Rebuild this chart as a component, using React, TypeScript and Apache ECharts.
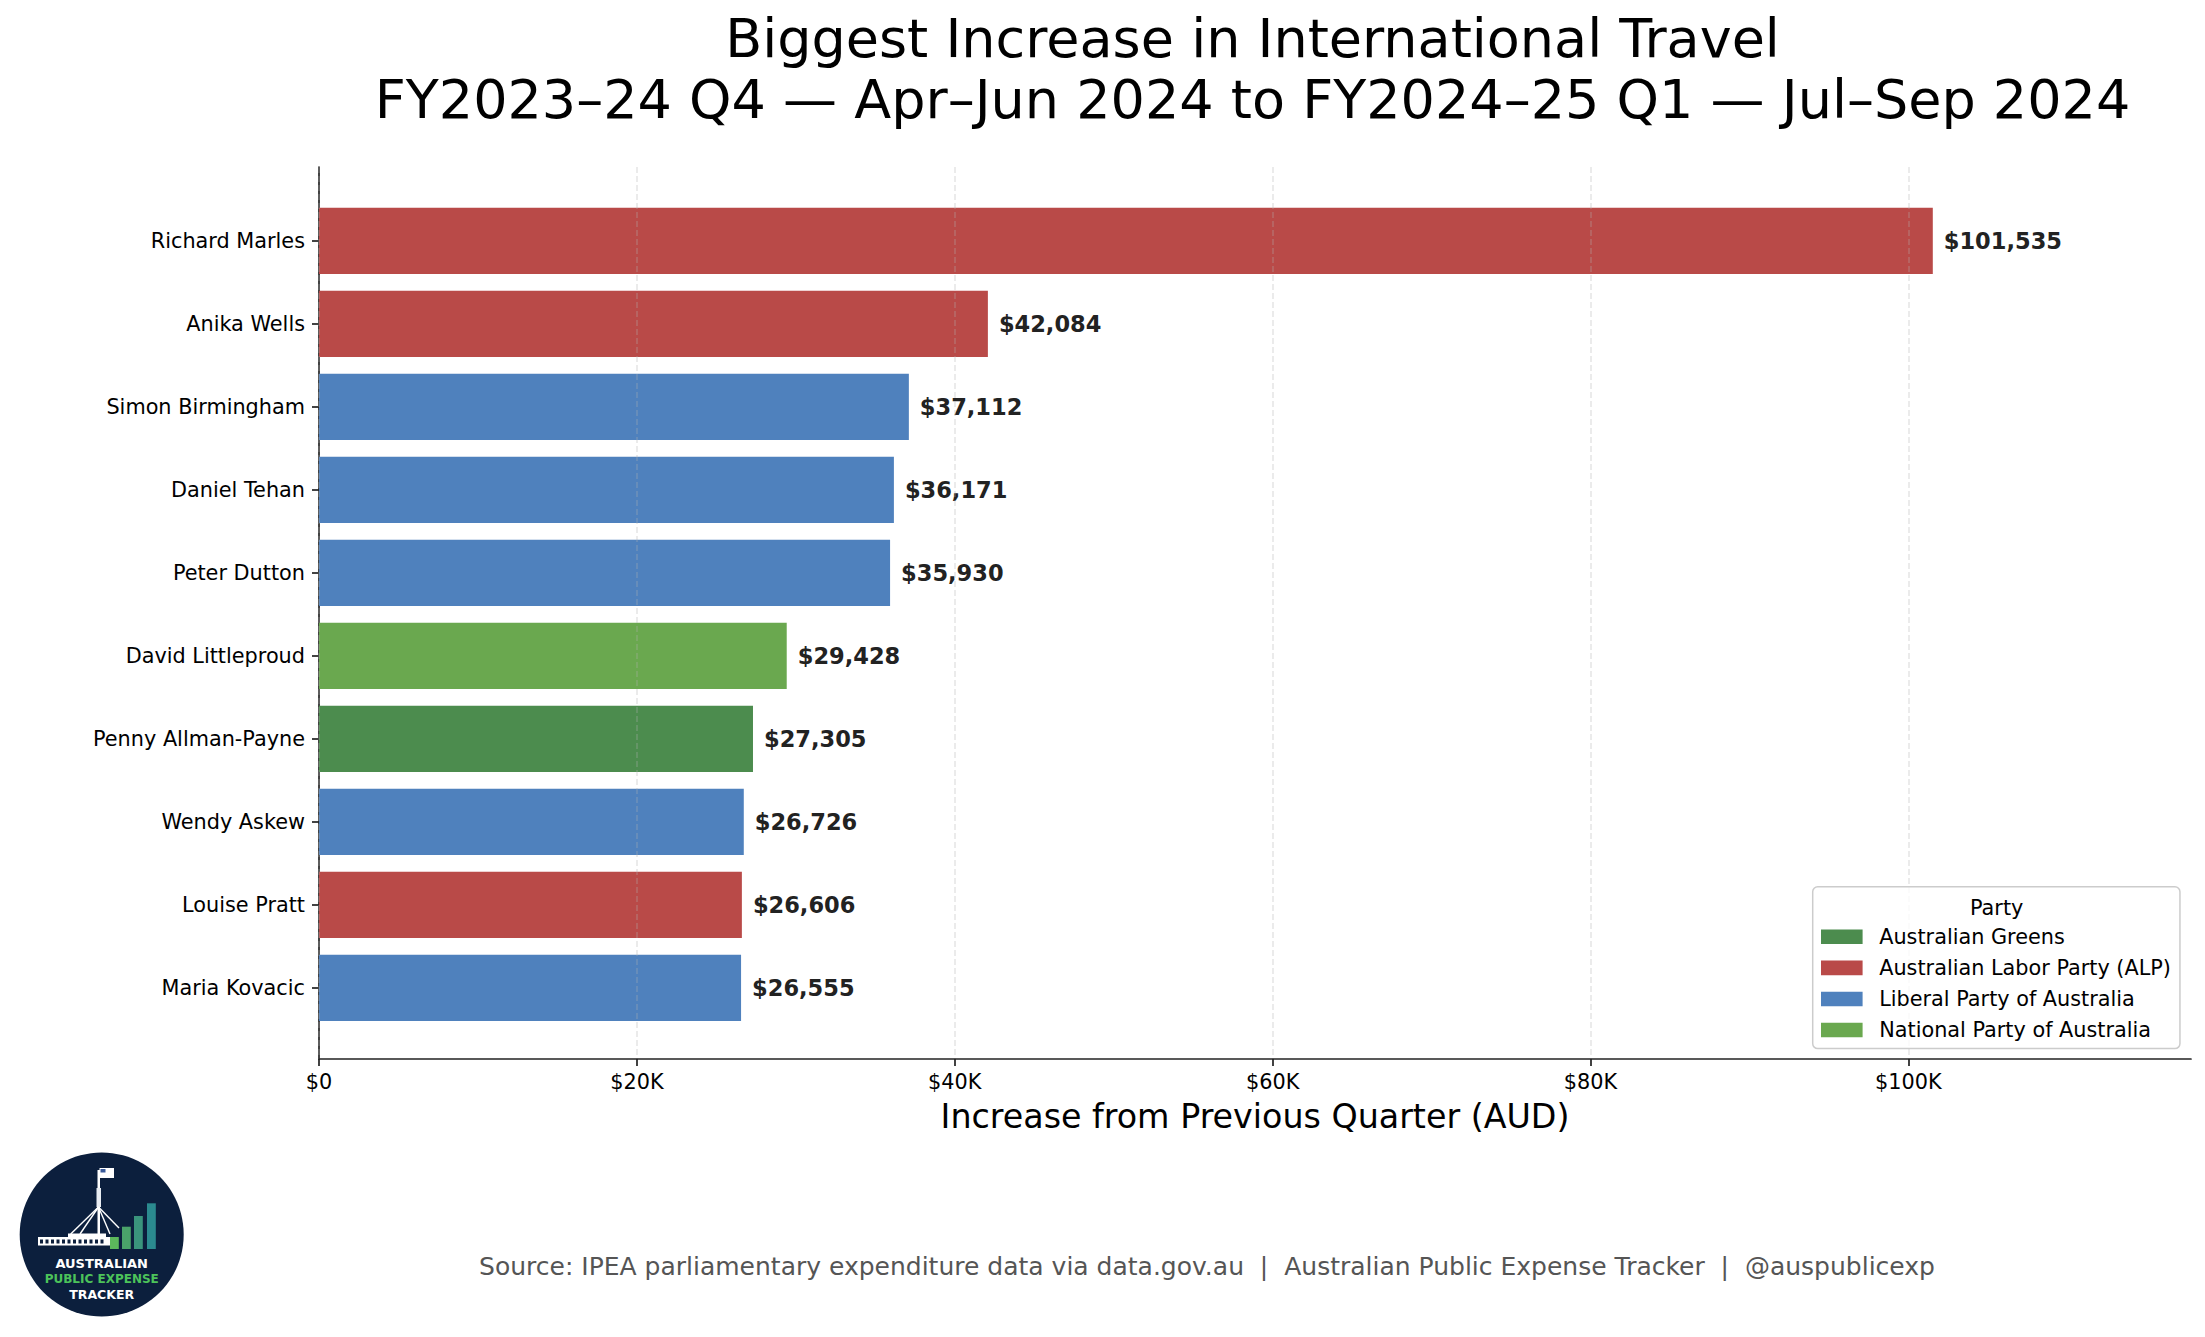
import React, { useEffect, useRef } from "react";
import * as echarts from "echarts";

const names = [
  "Richard Marles",
  "Anika Wells",
  "Simon Birmingham",
  "Daniel Tehan",
  "Peter Dutton",
  "David Littleproud",
  "Penny Allman-Payne",
  "Wendy Askew",
  "Louise Pratt",
  "Maria Kovacic",
];
const values = [101535, 42084, 37112, 36171, 35930, 29428, 27305, 26726, 26606, 26555];
const parties = [
  "Australian Labor Party (ALP)",
  "Australian Labor Party (ALP)",
  "Liberal Party of Australia",
  "Liberal Party of Australia",
  "Liberal Party of Australia",
  "National Party of Australia",
  "Australian Greens",
  "Liberal Party of Australia",
  "Australian Labor Party (ALP)",
  "Liberal Party of Australia",
];
const partyOrder = [
  "Australian Greens",
  "Australian Labor Party (ALP)",
  "Liberal Party of Australia",
  "National Party of Australia",
];
const partyColors = ["#4c8c4e", "#b94a48", "#4f81bd", "#6aa84f"];
const xTicks = [0, 20000, 40000, 60000, 80000, 100000];
const xMax = 117780;
const titleLines = [
  "Biggest Increase in International Travel",
  "FY2023–24 Q4 — Apr–Jun 2024 to FY2024–25 Q1 — Jul–Sep 2024",
];
const xAxisName = "Increase from Previous Quarter (AUD)";
const legendTitle = "Party";
const sourceText =
  "Source: IPEA parliamentary expenditure data via data.gov.au  |  Australian Public Expense Tracker  |  @auspublicexp";

const FONT = "DejaVu Sans";

function money(v: number) {
  return "$" + Number(v).toLocaleString("en-US");
}
function tickFmt(v: number) {
  return v === 0 ? "$0" : "$" + v / 1000 + "K";
}

function logoGraphic() {
  const navy = "#0c1f3d";
  const els: any[] = [];
  els.push({ type: "circle", shape: { cx: 101.7, cy: 1234.5, r: 82 }, style: { fill: navy }, z: 1 });
  // building base
  els.push({ type: "rect", shape: { x: 38, y: 1237, width: 72, height: 8.5 }, style: { fill: "#ffffff" }, z: 2 });
  els.push({ type: "rect", shape: { x: 68, y: 1233.5, width: 38, height: 5 }, style: { fill: "#ffffff" }, z: 2 });
  for (let i = 0; i < 12; i++) {
    els.push({
      type: "rect",
      shape: { x: 40 + i * 5.5, y: 1239.5, width: 3, height: 4 },
      style: { fill: navy },
      z: 3,
    });
  }
  // flag pole and flag
  els.push({ type: "rect", shape: { x: 97.5, y: 1170, width: 2.5, height: 66 }, style: { fill: "#ffffff" }, z: 2 });
  els.push({ type: "rect", shape: { x: 96.5, y: 1188, width: 4.5, height: 19 }, style: { fill: "#e8ecf2" }, z: 2 });
  els.push({ type: "rect", shape: { x: 99.5, y: 1168, width: 14.5, height: 10 }, style: { fill: "#ffffff" }, z: 2 });
  els.push({ type: "rect", shape: { x: 100.5, y: 1169, width: 5, height: 3.5 }, style: { fill: "#3a5a9a" }, z: 3 });
  const legs = [
    [70.7, 1234],
    [80, 1234],
    [110, 1234],
    [119, 1228],
  ];
  legs.forEach(([x2, y2]) => {
    els.push({
      type: "line",
      shape: { x1: 98.5, y1: 1207, x2, y2 },
      style: { stroke: "#ffffff", lineWidth: 1.4 },
      z: 2,
    });
  });
  // bars
  const bars = [
    { x: 110, top: 1237, c: "#5cb85c" },
    { x: 122, top: 1226.7, c: "#4aa36a" },
    { x: 134, top: 1216, c: "#3a947c" },
    { x: 147, top: 1203.3, c: "#2b8a8f" },
  ];
  bars.forEach((b) => {
    els.push({
      type: "rect",
      shape: { x: b.x, y: b.top, width: 8.8, height: 1249 - b.top },
      style: { fill: b.c },
      z: 2,
    });
  });
  const txt = (t: string, y: number, fill: string, size: number) => ({
    type: "text",
    x: 101.7,
    y,
    style: {
      text: t,
      fill,
      font: `bold ${size}px "${FONT}"`,
      textAlign: "center",
      textVerticalAlign: "middle",
    },
    z: 3,
  });
  els.push(txt("AUSTRALIAN", 1263.5, "#ffffff", 13));
  els.push(txt("PUBLIC EXPENSE", 1278.5, "#4cc35a", 12));
  els.push(txt("TRACKER", 1294.5, "#ffffff", 12.5));
  return els;
}

export default function App() {
  const ref = useRef<HTMLDivElement>(null);
  useEffect(() => {
    const chart = echarts.init(ref.current!, null, { renderer: "svg" });
    const labelStyle = {
      show: true,
      position: "right",
      distance: 11,
      formatter: (p: any) => money(p.value),
      fontSize: 22.5,
      fontWeight: "bold",
      color: "#222222",
      fontFamily: FONT,
    };
    const option: any = {
      animation: false,
      backgroundColor: "#ffffff",
      textStyle: { fontFamily: FONT },
      grid: [
        { left: 319, right: 14, top: 199.4, height: 830, containLabel: false },
        { left: 319, right: 14, top: 167, height: 892, containLabel: false },
      ],
      xAxis: [
        { type: "value", gridIndex: 0, min: 0, max: xMax, show: false },
        {
          type: "value",
          gridIndex: 1,
          min: 0,
          max: xMax,
          interval: 20000,
          z: 3,
          name: xAxisName,
          nameLocation: "middle",
          nameGap: 41,
          nameTextStyle: { fontSize: 33.3, color: "#000000", fontFamily: FONT },
          axisLine: { show: true, onZero: false, lineStyle: { color: "#222222", width: 1.7 } },
          axisTick: {
            show: true,
            length: 7,
            customValues: xTicks,
            lineStyle: { color: "#222222", width: 1.7 },
          },
          axisLabel: {
            show: true,
            customValues: xTicks,
            margin: 12,
            fontSize: 20.8,
            color: "#000000",
            fontFamily: FONT,
            formatter: (v: number) => tickFmt(v),
          },
          splitLine: {
            show: true,
            lineStyle: { color: "rgba(176,176,176,0.3)", width: 1.7, type: [6, 3] },
          },
        },
      ],
      yAxis: [
        {
          type: "category",
          gridIndex: 0,
          data: names,
          inverse: true,
          axisLine: { show: false },
          axisTick: {
            show: true,
            alignWithLabel: true,
            length: 7,
            lineStyle: { color: "#222222", width: 1.7 },
          },
          axisLabel: { margin: 14, fontSize: 20.8, color: "#000000", fontFamily: FONT },
          splitLine: { show: false },
        },
        {
          type: "value",
          gridIndex: 1,
          min: 0,
          max: 1,
          axisLine: { show: true, onZero: false, lineStyle: { color: "#222222", width: 1.7 } },
          axisTick: { show: false },
          axisLabel: { show: false },
          splitLine: { show: false },
        },
      ],
      legend: {
        orient: "vertical",
        left: 1812.7,
        top: 886.7,
        data: partyOrder,
        icon: "rect",
        itemWidth: 41.6,
        itemHeight: 14.6,
        itemGap: 0,
        padding: [34.5, 9, 3, 8.3],
        backgroundColor: "rgba(255,255,255,0.8)",
        borderColor: "#cccccc",
        borderWidth: 1.5,
        borderRadius: 5,
        selectedMode: false,
        z: 5,
        textStyle: {
          fontSize: 20.8,
          color: "#000000",
          fontFamily: FONT,
          lineHeight: 31.1,
          padding: [0, 0, 0, 11.6],
        },
      },
      series: partyOrder.map((p, k) => ({
        type: "bar",
        name: p,
        xAxisIndex: 0,
        yAxisIndex: 0,
        stack: "all",
        barCategoryGap: "20%",
        data: values.map((v, i) => (parties[i] === p ? v : "-")),
        itemStyle: { color: partyColors[k] },
        label: labelStyle,
        z: 2,
      })),
      graphic: [
        {
          type: "text",
          x: 1252.5,
          y: 38,
          style: {
            text: titleLines[0],
            fill: "#000000",
            font: `54px "${FONT}"`,
            textAlign: "center",
            textVerticalAlign: "middle",
          },
          z: 10,
        },
        {
          type: "text",
          x: 1252.5,
          y: 99,
          style: {
            text: titleLines[1],
            fill: "#000000",
            font: `54px "${FONT}"`,
            textAlign: "center",
            textVerticalAlign: "middle",
          },
          z: 10,
        },
        {
          type: "text",
          x: 1996.7,
          y: 908,
          style: {
            text: legendTitle,
            fill: "#000000",
            font: `20.8px "${FONT}"`,
            textAlign: "center",
            textVerticalAlign: "middle",
          },
          z: 10,
        },
        {
          type: "text",
          x: 1207,
          y: 1266,
          style: {
            text: sourceText,
            fill: "#555555",
            font: `25px "${FONT}"`,
            textAlign: "center",
            textVerticalAlign: "middle",
          },
          z: 10,
        },
        ...logoGraphic(),
      ],
    };
    chart.setOption(option);
    return () => chart.dispose();
  }, []);
  return (
    <div
      ref={ref}
      style={{ position: "fixed", left: 0, top: 0, width: 2205, height: 1337, background: "#fff" }}
    />
  );
}
